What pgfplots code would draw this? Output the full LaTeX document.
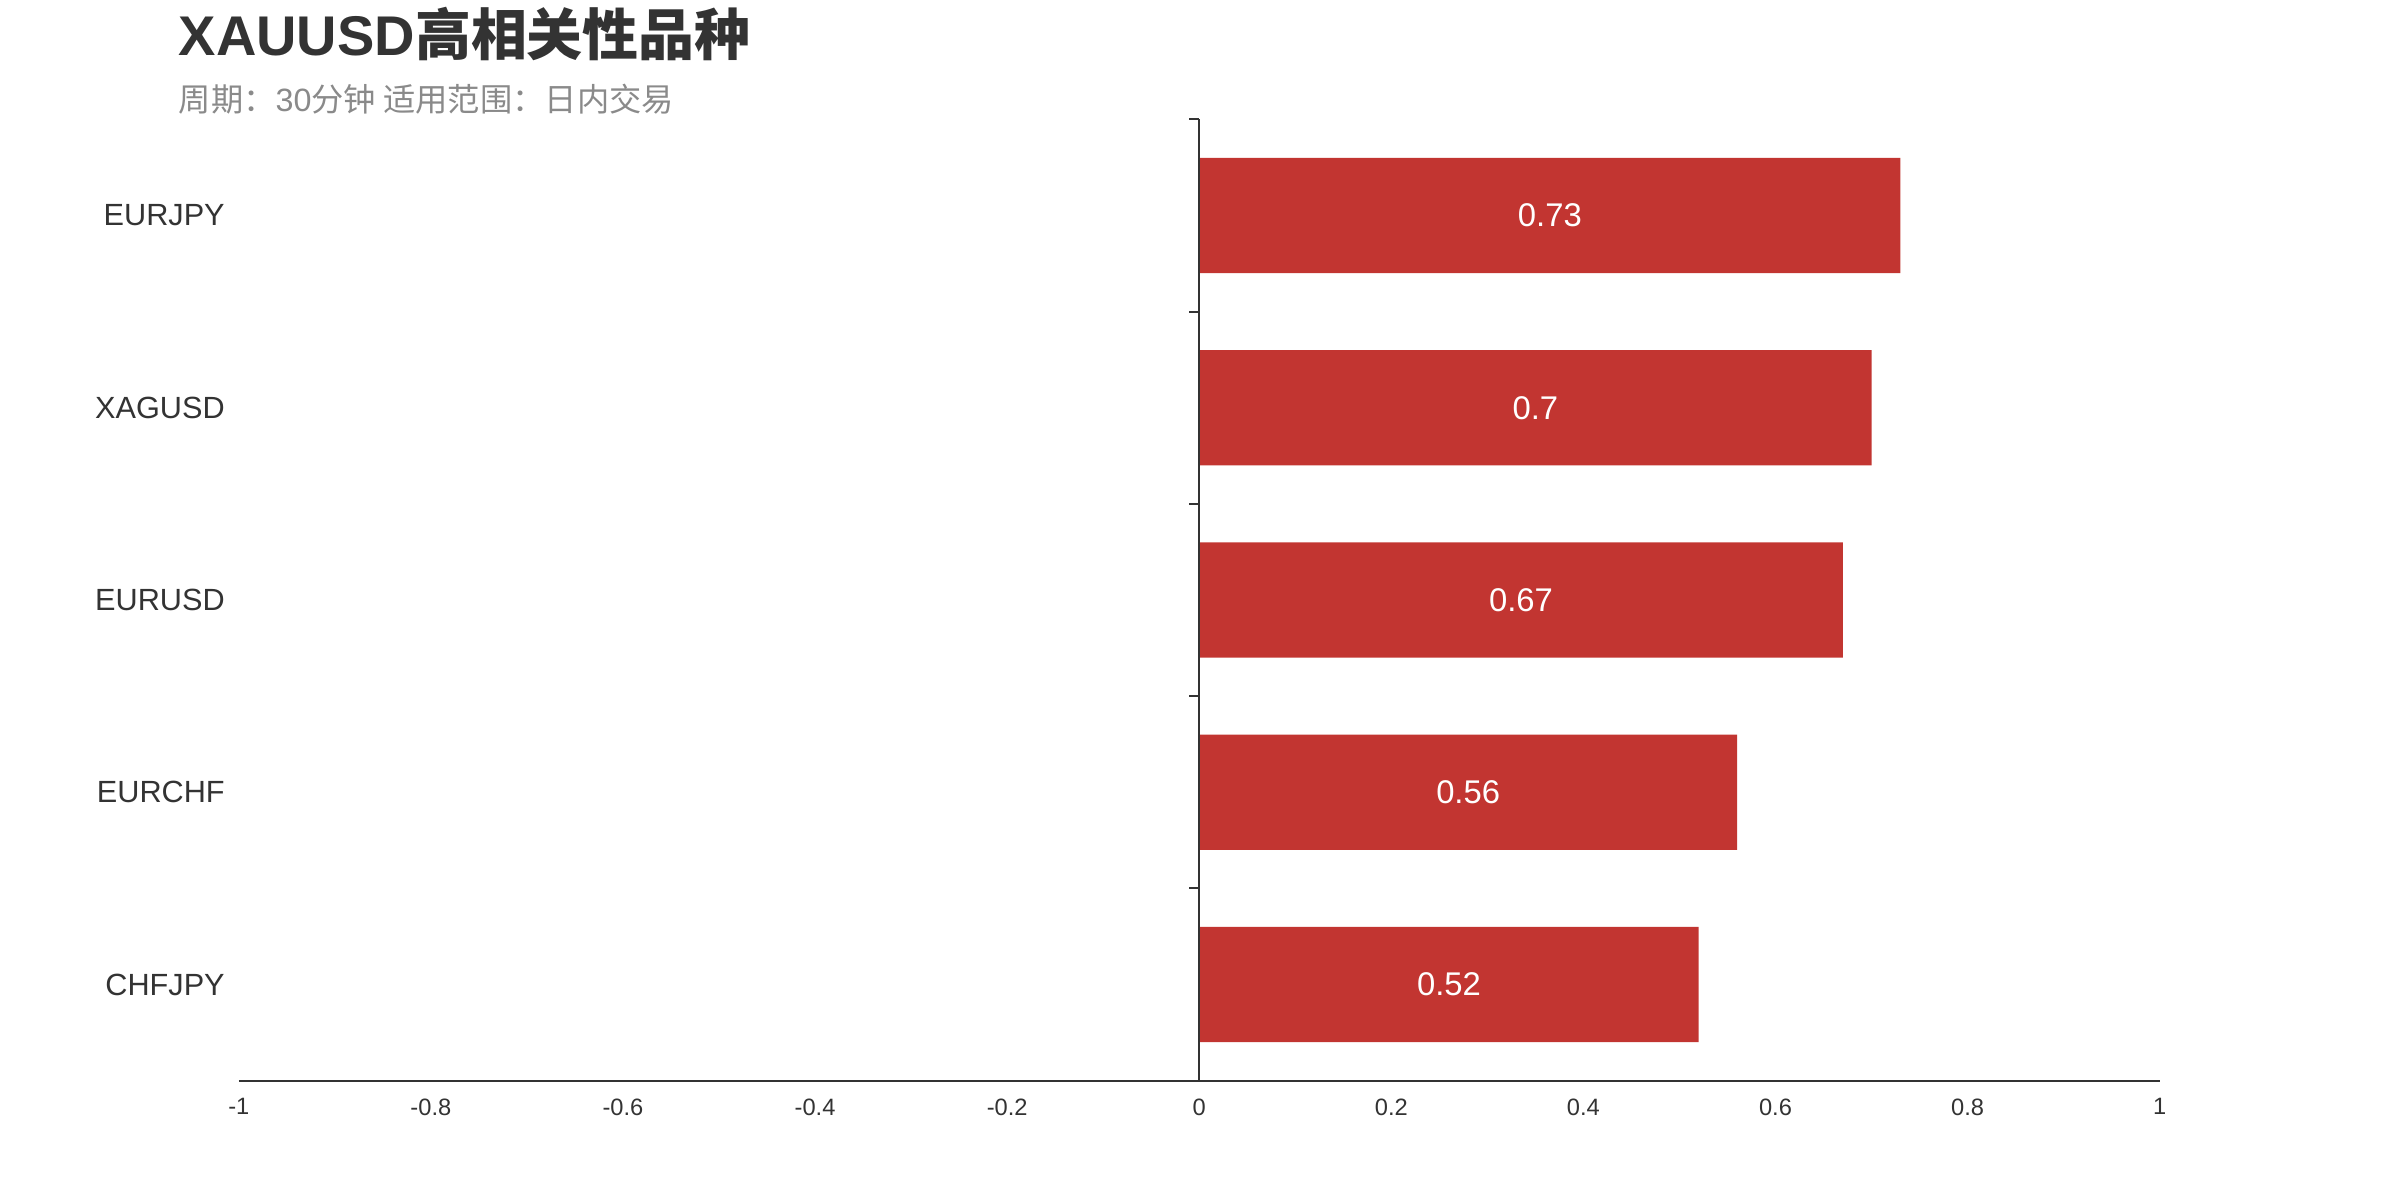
\documentclass[border=0pt]{standalone}
\usepackage{pgfplots}
\pgfplotsset{compat=1.18}
\usepackage{fontspec}
\setmainfont{Liberation Sans}
\newfontfamily\cjk{Noto Sans CJK SC}
\definecolor{barred}{HTML}{C23531}
\definecolor{txt}{HTML}{333333}
\definecolor{sub}{HTML}{8A8A8A}

\begin{document}
\begin{tikzpicture}
\useasboundingbox (0,0) rectangle (313.6mm,156.8mm);

\node[anchor=base west, inner sep=0pt, text=txt, font=\fontsize{20.8}{25}\selectfont]
  at (23.3mm,149.6mm) {\bfseries XAUUSD{\cjk\bfseries 高相关性品种}};
\node[anchor=base west, inner sep=0pt, text=sub, font=\fontsize{12}{14}\selectfont]
  at (23.3mm,142.2mm) {{\cjk 周期：}30{\cjk 分钟 适用范围：日内交易}};

\begin{axis}[
    at={(31.2mm,15.6mm)}, anchor=south west,
    scale only axis,
    width=251mm, height=125.6mm,
    xmin=-1, xmax=1,
    ymin=-0.5, ymax=4.5,
    axis x line=bottom,
    axis y line*=left,
    y axis line style={draw=none},
    x axis line style={draw=txt, line width=0.7pt, -},
    xtick={-1,-0.8,-0.6,-0.4,-0.2,0,0.2,0.4,0.6,0.8,1},
    xticklabels={-1,-0.8,-0.6,-0.4,-0.2,0,0.2,0.4,0.6,0.8,1},
    xticklabel style={text=txt, font=\fontsize{8.8}{10}\selectfont, yshift=-1.1mm},
    ytick={0,1,2,3,4},
    yticklabels={CHFJPY,EURCHF,EURUSD,XAGUSD,EURJPY},
    yticklabel style={text=txt, font=\fontsize{11.4}{13}\selectfont, xshift=-0.6mm},
    major tick length=0pt,
    clip=false,
]

% bars
\addplot[xbar, fill=barred, draw=none, bar width=0.6] coordinates {
    (0.52,0)
    (0.56,1)
    (0.67,2)
    (0.70,3)
    (0.73,4)
};

% value labels, in the middle of each bar
\addplot[draw=none, mark=none, nodes near coords, point meta=explicit symbolic,
    nodes near coords style={anchor=center, text=white, font=\fontsize{12.2}{14}\selectfont}]
    coordinates {
    (0.260,0) [0.52]
    (0.280,1) [0.56]
    (0.335,2) [0.67]
    (0.350,3) [0.7]
    (0.365,4) [0.73]
};

% y axis line at zero with ticks between categories
\draw[txt, line width=0.7pt] (axis cs:0,-0.5) -- (axis cs:0,4.5);
\draw[txt, line width=0.7pt] (axis cs:0,0.5) -- ([xshift=-1.4mm]axis cs:0,0.5);
\draw[txt, line width=0.7pt] (axis cs:0,1.5) -- ([xshift=-1.4mm]axis cs:0,1.5);
\draw[txt, line width=0.7pt] (axis cs:0,2.5) -- ([xshift=-1.4mm]axis cs:0,2.5);
\draw[txt, line width=0.7pt] (axis cs:0,3.5) -- ([xshift=-1.4mm]axis cs:0,3.5);
\draw[txt, line width=0.7pt] (axis cs:0,4.5) -- ([xshift=-1.4mm]axis cs:0,4.5);
\end{axis}
\end{tikzpicture}
\end{document}
